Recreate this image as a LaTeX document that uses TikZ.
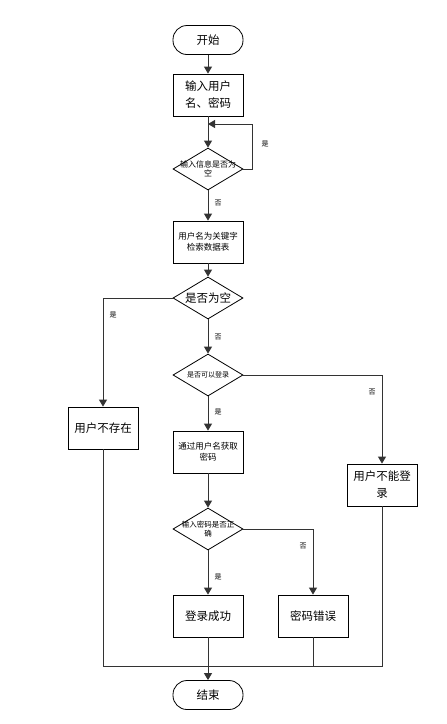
\documentclass[tikz,border=0pt]{standalone}
\usepackage{fontspec}
\setmainfont{Noto Sans CJK SC}
\usetikzlibrary{shapes.geometric,arrows.meta}
\begin{document}
\begin{tikzpicture}[x=1pt,y=-1pt,
  ln/.style={draw=black!80,line width=0.9pt},
  arr/.style={ln,-{Triangle[length=7pt,width=8pt]}},
  term/.style={draw=black,line width=0.8pt,rectangle,rounded corners=14pt,minimum width=70pt,minimum height=29pt,inner sep=0pt,font=\fontsize{11.5}{14}\selectfont},
  procbig/.style={draw=black,line width=0.8pt,rectangle,minimum width=70pt,minimum height=42pt,inner sep=0pt,align=center,font=\fontsize{11.5}{17}\selectfont},
  procsmall/.style={draw=black,line width=0.8pt,rectangle,minimum width=70pt,minimum height=42pt,inner sep=0pt,align=center,font=\fontsize{8.5}{11}\selectfont},
  dia/.style={draw=black,line width=0.8pt,diamond,minimum width=70pt,minimum height=42pt,inner sep=0pt},
  dtxt/.style={align=center,inner sep=0pt},
  lab/.style={font=\fontsize{7}{8}\selectfont,inner sep=0pt}
]
\useasboundingbox (0,0) rectangle (447,724);
\fill[white] (0,0) rectangle (447,724);

\node[term] (start) at (208,40) {开始};
\node[procbig] (input) at (208,95) {输入用户\\名、密码};
\node[dia,label={[dtxt,font=\fontsize{8}{9}\selectfont]center:{输入信息是否为\\空}}] (d1) at (208,169) {};
\node[procsmall] (query) at (208,242) {用户名为关键字\\检索数据表};
\node[dia,label={[dtxt,font=\fontsize{11.5}{14}\selectfont]center:{是否为空}}] (d2) at (208,298) {};
\node[dia,label={[dtxt,font=\fontsize{7}{8}\selectfont]center:{是否可以登录}}] (d3) at (208,375) {};
\node[procbig] (nouser) at (103,428) {用户不存在};
\node[procsmall] (getpw) at (208,452) {通过用户名获取\\密码};
\node[procbig] (nologin) at (382,485) {用户不能登\\录};
\node[dia,label={[dtxt,font=\fontsize{7.5}{9}\selectfont]center:{输入密码是否正\\确}}] (d4) at (208,529) {};
\node[procbig] (ok) at (208,616) {登录成功};
\node[procbig] (pwerr) at (313,616) {密码错误};
\node[term] (end) at (208,695) {结束};

\coordinate (lp) at (208,124);
\coordinate (join) at (208,666);

\draw[arr] (start) -- (input);
\draw[arr] (input) -- (d1);
\draw[arr] (d1.east) -- ++(9,0) |- (lp);
\node[lab] (l1) at (265,144) {是};
\draw[arr] (d1) -- (query);
\node[lab] (l2) at (218,203) {否};
\draw[arr] (query) -- (d2);
\draw[arr] (d2.west) -| (nouser.north);
\node[lab] (l3) at (113,315) {是};
\draw[arr] (d2) -- (d3);
\node[lab] (l4) at (218,337) {否};
\draw[arr] (d3.east) -| (nologin.north);
\node[lab] (l5) at (372,392) {否};
\draw[arr] (d3) -- (getpw);
\node[lab] (l6) at (218,412) {是};
\draw[arr] (getpw) -- (d4);
\draw[arr] (d4.east) -| (pwerr.north);
\node[lab] (l7) at (303,546) {否};
\draw[arr] (d4) -- (ok);
\node[lab] (l8) at (218,577) {是};
\draw[ln] (nouser.south) |- (join);
\draw[ln] (nologin.south) |- (join);
\draw[ln] (pwerr.south) |- (join);
\draw[arr] (ok.south) -- (end.north);
\end{tikzpicture}
\end{document}
